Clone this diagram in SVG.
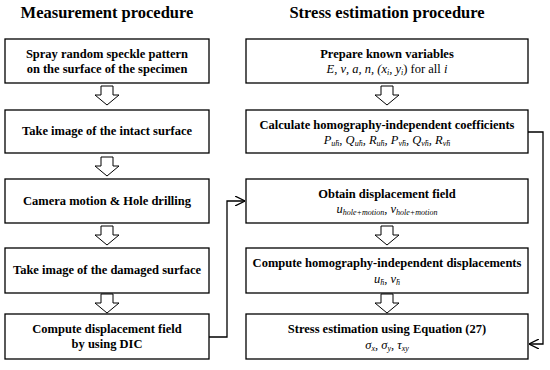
<svg xmlns="http://www.w3.org/2000/svg" width="550" height="370" viewBox="0 0 550 370">
<style>
.box{fill:#fff;stroke:#000;stroke-width:1.3}
.t{font-family:'Liberation Serif','DejaVu Serif',serif;font-weight:bold;font-size:12.5px;text-anchor:middle;fill:#000}
.h{font-family:'Liberation Serif','DejaVu Serif',serif;font-weight:bold;font-size:16.5px;text-anchor:middle;fill:#000}
.m{font-family:'Liberation Serif','DejaVu Serif',serif;font-style:italic;font-size:12.5px;text-anchor:middle;fill:#000}
.s{font-size:8px}
.ha{fill:#fff;stroke:#000;stroke-width:1}
.c{fill:none;stroke:#000;stroke-width:1.3}
</style>
<defs>
<marker id="v" viewBox="0 0 10 10" refX="10" refY="5" markerWidth="10" markerHeight="10" markerUnits="userSpaceOnUse" orient="auto">
<path d="M0,0 L10,5 L0,10" fill="none" stroke="#000" stroke-width="1.3"/>
</marker>
<path id="ha" d="M-6,0 H6 V9 H12 L0,19 L-12,9 H-6 Z"/>
</defs>
<text class="h" x="107" y="18">Measurement procedure</text>
<text class="h" x="387" y="18">Stress estimation procedure</text>

<g id="L1"><rect class="box" x="5" y="39" width="204" height="44"/>
<text class="t" x="107" y="58">Spray random speckle pattern</text>
<text class="t" x="107" y="73">on the surface of the specimen</text></g>
<g id="L2"><rect class="box" x="5" y="110" width="204" height="43"/>
<text class="t" x="107" y="135">Take image of the intact surface</text></g>
<g id="L3"><rect class="box" x="5" y="179" width="204" height="44"/>
<text class="t" x="107" y="205">Camera motion &amp; Hole drilling</text></g>
<g id="L4"><rect class="box" x="5" y="248" width="204" height="45"/>
<text class="t" x="107" y="274">Take image of the damaged surface</text></g>
<g id="L5"><rect class="box" x="5" y="314" width="204" height="45"/>
<text class="t" x="107" y="333">Compute displacement field</text>
<text class="t" x="107" y="348">by using DIC</text></g>

<g id="R1"><rect class="box" x="246" y="39" width="282" height="44"/>
<text class="t" x="387" y="58">Prepare known variables</text>
<text class="m" x="387" y="73">E, ν, a, n, (x<tspan class="s" dy="2">i</tspan><tspan dy="-2">, y</tspan><tspan class="s" dy="2">i</tspan><tspan dy="-2" font-style="normal">) for all </tspan>i</text></g>
<g id="R2"><rect class="box" x="246" y="110" width="282" height="43"/>
<text class="t" x="387" y="129">Calculate homography-independent coefficients</text>
<text class="m" x="387" y="144">P<tspan class="s" dy="2">uh̄</tspan><tspan dy="-2">, Q</tspan><tspan class="s" dy="2">uh̄</tspan><tspan dy="-2">, R</tspan><tspan class="s" dy="2">uh̄</tspan><tspan dy="-2">, P</tspan><tspan class="s" dy="2">vh̄</tspan><tspan dy="-2">, Q</tspan><tspan class="s" dy="2">vh̄</tspan><tspan dy="-2">, R</tspan><tspan class="s" dy="2">vh̄</tspan></text></g>
<g id="R3"><rect class="box" x="246" y="179" width="282" height="44"/>
<text class="t" x="387" y="198">Obtain displacement field</text>
<text class="m" x="387" y="213">u<tspan class="s" dy="2">hole+motion</tspan><tspan dy="-2">, v</tspan><tspan class="s" dy="2">hole+motion</tspan></text></g>
<g id="R4"><rect class="box" x="246" y="248" width="282" height="45"/>
<text class="t" x="387" y="267">Compute homography-independent displacements</text>
<text class="m" x="387" y="283">u<tspan class="s" dy="2">h̄</tspan><tspan dy="-2">, v</tspan><tspan class="s" dy="2">h̄</tspan></text></g>
<g id="R5"><rect class="box" x="246" y="314" width="282" height="45"/>
<text class="t" x="387" y="333">Stress estimation using Equation (27)</text>
<text class="m" x="387" y="349">σ<tspan class="s" dy="2">x</tspan><tspan dy="-2">, σ</tspan><tspan class="s" dy="2">y</tspan><tspan dy="-2">, τ</tspan><tspan class="s" dy="2">xy</tspan></text></g>

<g id="connectors">
<use href="#ha" class="ha" x="107" y="86"/>
<use href="#ha" class="ha" x="107" y="157"/>
<use href="#ha" class="ha" x="107" y="226"/>
<use href="#ha" class="ha" x="107" y="294"/>
<use href="#ha" class="ha" x="387" y="86"/>
<use href="#ha" class="ha" x="387" y="226"/>
<use href="#ha" class="ha" x="387" y="294"/>
<path class="c" d="M209,337 H227 V201 H245" marker-end="url(#v)"/>
<path class="c" d="M528,132 H543 V344 H529" marker-end="url(#v)"/>
</g>
</svg>
